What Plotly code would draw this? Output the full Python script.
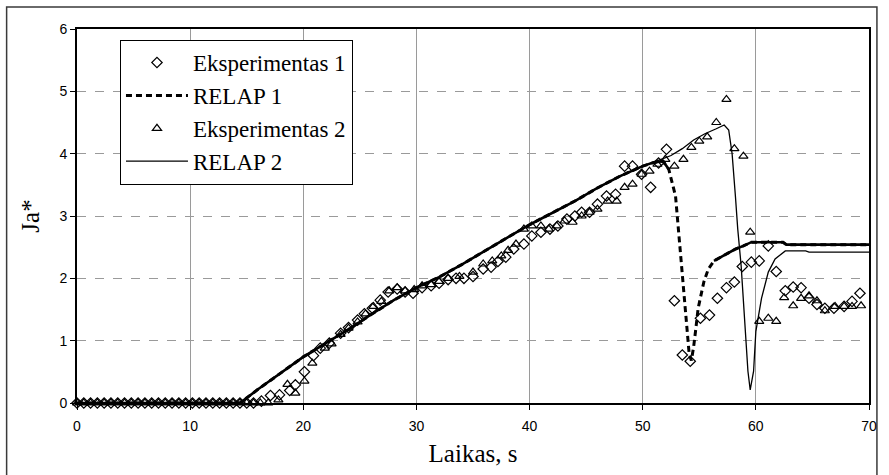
import numpy as np
import plotly.graph_objects as go

# ---------------- data ----------------
exp1_x = [0, 0.6, 1.2, 1.8, 2.4, 3.0, 3.6, 4.2, 4.8, 5.4, 6.0, 6.6, 7.2, 7.8, 8.4, 9.0,
          9.6, 10.2, 10.8, 11.4, 12.0, 12.6, 13.2, 13.8, 14.4, 15.0, 15.6,
          16.3, 17.1, 17.9, 18.8, 19.3, 20.1, 20.9, 21.5, 22.3, 23.3, 24.0, 24.8, 25.4,
          26.1, 26.8, 27.5, 28.3, 29.0, 29.7, 30.5, 31.3, 32.0, 32.8, 33.5, 34.2, 35.0,
          35.9, 36.6, 37.2, 37.9, 38.6, 39.5, 40.2, 41.0, 41.8, 42.5, 43.3, 44.0, 44.6,
          45.3, 46.0, 46.8, 47.6, 48.4, 49.1, 49.9, 50.7, 51.4, 52.1, 52.8, 53.5, 54.2,
          55.1, 55.9, 56.6, 57.4, 58.1, 58.8, 59.6, 60.3, 61.1, 61.8, 62.6, 63.3, 64.0,
          64.7, 65.4, 66.1, 66.9, 67.8, 68.5, 69.2]
exp1_y = [0, 0, 0, 0, 0, 0, 0, 0, 0, 0, 0, 0, 0, 0, 0, 0,
          0, 0, 0, 0, 0, 0, 0, 0, 0, 0, 0,
          0.03, 0.12, 0.13, 0.20, 0.29, 0.50, 0.76, 0.88, 0.96, 1.12, 1.21, 1.33, 1.43,
          1.52, 1.65, 1.78, 1.83, 1.78, 1.76, 1.85, 1.88, 1.92, 1.98, 2.00, 2.00, 2.03,
          2.15, 2.18, 2.27, 2.34, 2.47, 2.55, 2.68, 2.74, 2.79, 2.84, 2.95, 3.00, 3.06,
          3.06, 3.19, 3.32, 3.35, 3.80, 3.80, 3.67, 3.46, 3.85, 4.07, 1.64, 0.77, 0.67,
          1.36, 1.41, 1.68, 1.85, 1.94, 2.19, 2.26, 2.28, 2.52, 2.11, 1.80, 1.86, 1.85,
          1.68, 1.58, 1.52, 1.52, 1.55, 1.63, 1.76]

exp2_x = [0, 0.6, 1.2, 1.8, 2.4, 3.0, 3.6, 4.2, 4.8, 5.4, 6.0, 6.6, 7.2, 7.8, 8.4, 9.0,
          9.6, 10.2, 10.8, 11.4, 12.0, 12.6, 13.2, 13.8, 14.4, 15.0, 15.6, 16.2, 16.9,
          17.8, 18.6, 19.3, 20.1, 20.8, 21.9, 22.5, 23.3, 24.0, 24.8, 25.5, 26.2, 26.9,
          27.6, 28.3, 29.0, 29.8, 30.5, 31.3, 32.0, 32.8, 33.8, 35.0, 35.9, 36.7, 37.5,
          38.1, 38.8, 39.5, 40.2, 41.0, 41.7, 42.4, 43.1, 43.8, 44.6, 45.3, 46.0, 46.9,
          47.7, 48.4, 49.1, 49.9, 50.6, 51.3, 52.0, 52.8, 53.6, 54.3, 55.0, 55.7, 56.5,
          57.4, 58.1, 58.9, 59.5, 60.3, 61.1, 61.8, 62.5, 63.3, 64.0, 64.7, 65.4, 66.1,
          67.0, 67.8, 68.5, 69.3]
exp2_y = [0, 0, 0, 0, 0, 0, 0, 0, 0, 0, 0, 0, 0, 0, 0, 0,
          0, 0, 0, 0, 0, 0, 0, 0, 0, 0, 0, 0, 0,
          0.05, 0.30, 0.16, 0.35, 0.64, 0.88, 0.95, 1.10, 1.20, 1.30, 1.43, 1.55, 1.63,
          1.80, 1.85, 1.80, 1.82, 1.88, 1.90, 1.95, 2.00, 2.03, 2.10, 2.23, 2.28, 2.36,
          2.45, 2.55, 2.79, 2.84, 2.84, 2.79, 2.84, 2.92, 2.90, 3.00, 3.06, 3.11, 3.24,
          3.24, 3.46, 3.51, 3.67, 3.72, 3.83, 3.91, 3.80, 3.91, 4.10, 4.20, 4.27, 4.50,
          4.87, 4.08, 3.96, 2.74, 1.31, 1.36, 1.31, 1.69, 1.56, 1.68, 1.72, 1.64, 1.48,
          1.55, 1.55, 1.55, 1.56]

relap1_x = [0, 14.4, 16, 18, 20, 22, 24, 26, 28, 30, 32, 34, 36, 38, 40, 42, 44, 46, 48,
            50, 51, 51.8, 52.3, 52.9, 53.1, 53.3, 53.5, 53.7, 53.9, 54.1, 54.3, 54.5,
            54.7, 54.9, 55.4, 55.8, 56.3, 57.1, 58.2, 58.9, 59.6, 62.4, 62.7, 70.3]
relap1_y = [0, 0, 0.22, 0.48, 0.74, 0.96, 1.18, 1.42, 1.65, 1.85, 2.02, 2.22, 2.44, 2.65,
            2.86, 3.05, 3.24, 3.45, 3.64, 3.80, 3.86, 3.88, 3.75, 3.32, 2.90, 2.53, 2.04,
            1.60, 1.15, 0.80, 0.68, 0.90, 1.20, 1.52, 1.94, 2.15, 2.28, 2.36, 2.47, 2.52,
            2.58, 2.58, 2.54, 2.54]

relap2_x = [0, 14.4, 16, 18, 20, 22, 24, 26, 28, 30, 32, 34, 36, 38, 40, 42, 44, 46, 48,
            50, 51, 51.8, 52.5, 53.5, 54.5, 55.5, 56.5, 57.2, 57.6, 57.9, 58.2, 58.4,
            58.7, 58.9, 59.1, 59.3, 59.5, 59.8, 60.0, 60.5, 61.1, 61.7, 62.6, 64.4,
            64.7, 70.3]
relap2_y = [0, 0, 0.22, 0.48, 0.74, 0.96, 1.18, 1.42, 1.65, 1.85, 2.02, 2.22, 2.44, 2.65,
            2.86, 3.05, 3.24, 3.45, 3.64, 3.80, 3.86, 3.92, 3.97, 4.08, 4.22, 4.32, 4.40,
            4.46, 4.38, 4.00, 3.30, 2.79, 2.20, 1.68, 1.15, 0.51, 0.21, 0.51, 1.15,
            1.68, 2.10, 2.31, 2.44, 2.44, 2.42, 2.42]

x_ticks = [0, 10, 20, 30, 40, 50, 60, 70]
y_ticks = [0, 1, 2, 3, 4, 5, 6]

# ---------------- figure ----------------
SERIF = "Liberation Serif, Times New Roman, serif"
SANS = "Liberation Sans, Arial, sans-serif"

fig = go.Figure()

r1x = np.array(relap1_x)
r1y = np.array(relap1_y)
# dense (visually solid) portions of the RELAP 1 curve
m_a = r1x <= 52.3
m_b = r1x >= 56.3

fig.add_trace(go.Scatter(
    x=exp1_x, y=exp1_y, mode="markers", name="Eksperimentas 1",
    marker=dict(symbol="diamond-open", size=8, color="black", line=dict(width=1.2, color="black")),
    cliponaxis=False))
fig.add_trace(go.Scatter(
    x=relap1_x, y=relap1_y, mode="lines", name="RELAP 1",
    line=dict(color="black", width=3, dash="6px,4px")))
fig.add_trace(go.Scatter(
    x=exp2_x, y=exp2_y, mode="markers", name="Eksperimentas 2",
    marker=dict(symbol="triangle-up-open", size=8, color="black", line=dict(width=1.2, color="black")),
    cliponaxis=False))
fig.add_trace(go.Scatter(
    x=relap2_x, y=relap2_y, mode="lines", name="RELAP 2",
    line=dict(color="black", width=1.3)))
fig.add_trace(go.Scatter(
    x=r1x[m_a], y=r1y[m_a], mode="lines", showlegend=False, hoverinfo="skip",
    line=dict(color="black", width=2.6)))
fig.add_trace(go.Scatter(
    x=r1x[m_b], y=r1y[m_b], mode="lines", showlegend=False, hoverinfo="skip",
    line=dict(color="black", width=2.6)))

# outer frame (paper coords relative to plot area 77..876 x 29..405)
fig.add_shape(type="rect", xref="paper", yref="paper",
              x0=(6 - 77) / 799, x1=(884 - 77) / 799,
              y0=(405 - 485) / 376, y1=(405 - 7) / 376,
              line=dict(color="#3a3a3a", width=1.5), fillcolor="rgba(0,0,0,0)", layer="below")

fig.update_layout(
    width=889, height=475,
    margin=dict(l=77, r=13, t=29, b=70, pad=0),
    paper_bgcolor="white", plot_bgcolor="white",
    showlegend=True,
    legend=dict(
        x=0.054, y=0.971, xanchor="left", yanchor="top",
        bgcolor="white", bordercolor="black", borderwidth=1.2,
        font=dict(family=SERIF, size=23, color="black"),
        itemwidth=62, tracegroupgap=0,
    ),
    xaxis=dict(
        range=[0, 70], tickvals=x_ticks, ticktext=[str(v) for v in x_ticks],
        showgrid=True, gridcolor="#9a9a9a", gridwidth=1,
        showline=True, linecolor="black", linewidth=1.6, mirror=True,
        ticks="outside", ticklen=5, tickcolor="black", tickwidth=1,
        ticklabelstandoff=4,
        tickfont=dict(family=SANS, size=14, color="black"),
        zeroline=False,
        title=dict(text="Laikas, s", font=dict(family=SERIF, size=25, color="black"), standoff=12),
    ),
    yaxis=dict(
        range=[0, 6], tickvals=y_ticks, ticktext=[str(v) for v in y_ticks],
        showgrid=True, gridcolor="#9a9a9a", gridwidth=1, griddash="dash",
        showline=True, linecolor="black", linewidth=1.6, mirror=True,
        ticks="outside", ticklen=5, tickcolor="black", tickwidth=1,
        tickfont=dict(family=SANS, size=14, color="black"),
        zeroline=False,
        title=dict(text="Ja*", font=dict(family=SERIF, size=25, color="black"), standoff=13),
    ),
)

fig.write_html("out.html")
